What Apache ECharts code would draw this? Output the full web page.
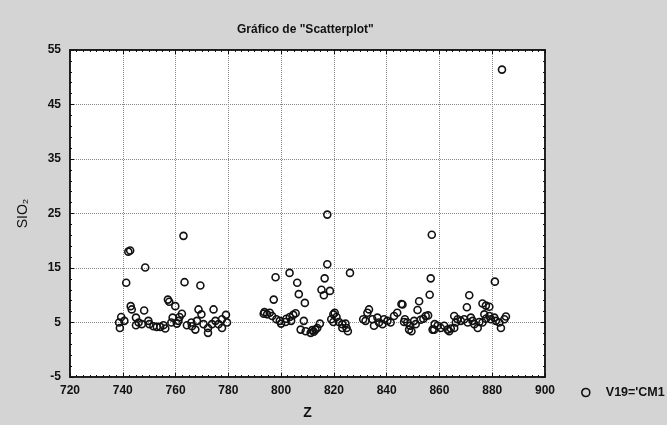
<!DOCTYPE html>
<html>
<head>
<meta charset="utf-8">
<script src="https://cdn.jsdelivr.net/npm/echarts@6/dist/echarts.min.js"></script>
<style>
html,body{margin:0;padding:0;background:#d4d4d4;}
#c{width:667px;height:425px;}
</style>
</head>
<body>
<div id="c"></div>
<script>
// Z values (x)
const zValues = [
  763.0, 742.1, 742.8, 748.5, 741.3, 763.4, 769.4, 757.1, 757.6, 759.9,
  743.0, 743.4, 748.1, 768.7, 774.4, 762.4, 769.8, 739.4, 738.6, 738.9,
  740.6, 745.0, 746.0, 745.0, 747.2, 749.7, 750.1, 751.6, 752.9, 754.2,
  755.4, 756.1, 758.9, 758.4, 761.1, 761.5, 760.5, 764.3, 766.2, 767.5,
  766.0, 768.1, 770.6, 772.3, 772.3, 773.8, 775.1, 776.3, 777.6, 779.1,
  777.6, 779.5,
  817.5, 817.5, 797.9, 803.2, 826.1, 816.5, 806.1, 815.3, 816.2, 818.5,
  806.7, 797.2, 809.0, 793.7, 794.7, 793.4, 795.7, 796.6, 798.2, 799.5,
  800.0, 801.7, 802.0, 803.3, 804.6, 805.5, 803.8, 808.6, 807.4, 809.3,
  811.2, 811.8, 813.0, 813.7, 814.7, 812.4, 819.8, 820.3, 821.0, 819.0,
  819.8, 821.9, 823.2, 824.4, 824.8, 825.3, 823.2,
  833.3, 832.7, 831.1, 832.0, 835.2, 834.6, 836.5, 837.1, 838.4, 839.0,
  840.3, 841.5, 842.8, 844.0, 845.6, 846.0, 846.9, 848.5, 857.1, 856.7,
  856.3, 852.3, 851.7, 849.4, 848.9, 850.4, 851.0, 852.9, 853.9, 854.8,
  855.7, 857.4, 847.8, 846.6,
  881.0, 871.3, 870.4, 876.3, 877.6, 878.9, 858.2, 859.3, 860.5, 861.8,
  858.0, 863.1, 863.7, 864.3, 865.6, 866.2, 865.6, 866.9, 868.1, 869.4,
  870.7, 871.9, 872.6, 873.2, 874.5, 875.1, 876.3, 877.0, 877.6, 878.9,
  879.5, 880.8, 881.4, 882.7, 883.3, 884.6, 885.2, 883.7
];
// SIO2 values (y)
const sio2Values = [
  20.9, 18.0, 18.2, 15.1, 12.3, 12.4, 11.8, 9.2, 8.8, 8.0,
  8.0, 7.4, 7.2, 7.4, 7.4, 6.6, 6.5, 6.0, 5.0, 4.0,
  5.3, 5.9, 5.0, 4.5, 4.7, 5.3, 4.7, 4.3, 4.2, 4.2,
  4.5, 3.9, 5.9, 5.0, 5.3, 6.0, 4.8, 4.5, 4.3, 3.7,
  5.0, 5.3, 4.7, 4.0, 3.1, 4.7, 5.3, 4.7, 5.6, 6.4,
  4.0, 5.0,
  24.8, 15.7, 13.3, 14.1, 14.1, 13.1, 12.3, 11.0, 10.0, 10.8,
  10.2, 9.2, 8.6, 6.9, 6.5, 6.6, 6.8, 6.2, 5.6, 5.3,
  4.8, 5.1, 5.7, 6.0, 6.4, 6.7, 5.3, 5.3, 3.7, 3.4,
  3.1, 3.6, 3.7, 4.0, 4.8, 3.3, 6.5, 6.8, 6.0, 5.6,
  5.1, 5.1, 4.7, 4.8, 4.0, 3.4, 4.0,
  7.4, 6.8, 5.6, 5.3, 4.4, 5.6, 5.9, 5.0, 4.7, 5.6,
  5.3, 5.0, 6.2, 6.8, 8.4, 8.3, 5.6, 3.7, 21.1, 13.1,
  10.1, 8.9, 7.3, 3.4, 4.4, 5.3, 4.7, 5.5, 5.7, 6.2,
  6.3, 3.7, 5.0, 5.1,
  12.5, 10.0, 7.8, 8.5, 8.1, 7.9, 4.7, 4.4, 4.0, 4.4,
  3.7, 3.7, 3.4, 3.9, 4.0, 5.0, 6.2, 5.6, 5.3, 5.6,
  5.0, 5.9, 5.3, 4.7, 4.0, 5.1, 5.0, 6.5, 5.7, 6.2,
  5.6, 5.9, 5.3, 5.0, 4.0, 5.6, 6.1, 51.4
];
const xTicks = { min: 720, max: 900, interval: 20 };
const yTicks = { min: -5, max: 55, interval: 10 };
const seriesName = "V19='CM1";

const points = zValues.map((z, i) => [z, sio2Values[i]]);

const labelFont = { fontFamily: 'Liberation Sans, Arial, sans-serif', fontWeight: 'bold', fontSize: 12, color: '#111' };
const tickStyle = { show: true, inside: true, length: 4, lineStyle: { color: '#111', width: 1 } };
const minorStyle = (n) => ({ show: true, splitNumber: n, length: 2, lineStyle: { color: '#111', width: 1 } });
const axisLineStyle = { show: true, onZero: false, lineStyle: { color: '#111', width: 1.5 } };

const chart = echarts.init(document.getElementById('c'), null, { renderer: 'canvas' });
chart.setOption({
  backgroundColor: '#d4d4d4',
  animation: false,
  title: {
    text: 'Gráfico de "Scatterplot"',
    left: 232, top: 19,
    textStyle: { fontFamily: 'Liberation Sans, Arial, sans-serif', fontWeight: 'bold', fontSize: 12, color: '#111' }
  },
  legend: {
    left: 576, top: 381,
    itemWidth: 8, itemHeight: 8, itemGap: 6,
    data: [{ name: seriesName, icon: 'circle' }],
    itemStyle: { color: 'transparent', borderColor: '#111', borderWidth: 1.6 },
    textStyle: Object.assign({}, labelFont, { fontSize: 12.5, padding: [0, 0, 0, 11] })
  },
  grid: { left: 70, right: 122, top: 50, bottom: 43, show: true, backgroundColor: '#ffffff', borderColor: '#111', borderWidth: 1.5 },
  xAxis: [{
    type: 'value', min: xTicks.min, max: xTicks.max, interval: xTicks.interval,
    name: 'Z', nameLocation: 'middle', nameGap: 29,
    nameTextStyle: Object.assign({}, labelFont, { fontSize: 14 }),
    axisLine: axisLineStyle,
    axisTick: tickStyle, minorTick: minorStyle(8),
    axisLabel: Object.assign({ margin: 8 }, labelFont),
    splitLine: { show: true, lineStyle: { type: 'dotted', color: '#888', width: 1 } }
  }, {
    type: 'value', position: 'top', min: xTicks.min, max: xTicks.max, interval: xTicks.interval,
    axisLine: axisLineStyle,
    axisTick: tickStyle, minorTick: minorStyle(8),
    axisLabel: { show: false }, splitLine: { show: false }
  }],
  yAxis: [{
    type: 'value', min: yTicks.min, max: yTicks.max, interval: yTicks.interval,
    name: 'SIO₂', nameLocation: 'middle', nameGap: 40,
    nameTextStyle: Object.assign({}, labelFont, { fontWeight: 'normal', fontSize: 14 }),
    axisLine: axisLineStyle,
    axisTick: tickStyle, minorTick: minorStyle(5),
    axisLabel: Object.assign({ margin: 9 }, labelFont),
    splitLine: { show: true, lineStyle: { type: 'dotted', color: '#888', width: 1 } }
  }, {
    type: 'value', position: 'right', min: yTicks.min, max: yTicks.max, interval: yTicks.interval,
    axisLine: axisLineStyle,
    axisTick: tickStyle, minorTick: minorStyle(5),
    axisLabel: { show: false }, splitLine: { show: false }
  }],
  series: [{
    name: seriesName,
    type: 'scatter',
    xAxisIndex: 0, yAxisIndex: 0,
    symbol: 'circle', symbolSize: 7,
    itemStyle: { color: 'transparent', borderColor: '#111', borderWidth: 1.6, opacity: 1 },
    data: points
  }]
});
</script>
</body>
</html>
